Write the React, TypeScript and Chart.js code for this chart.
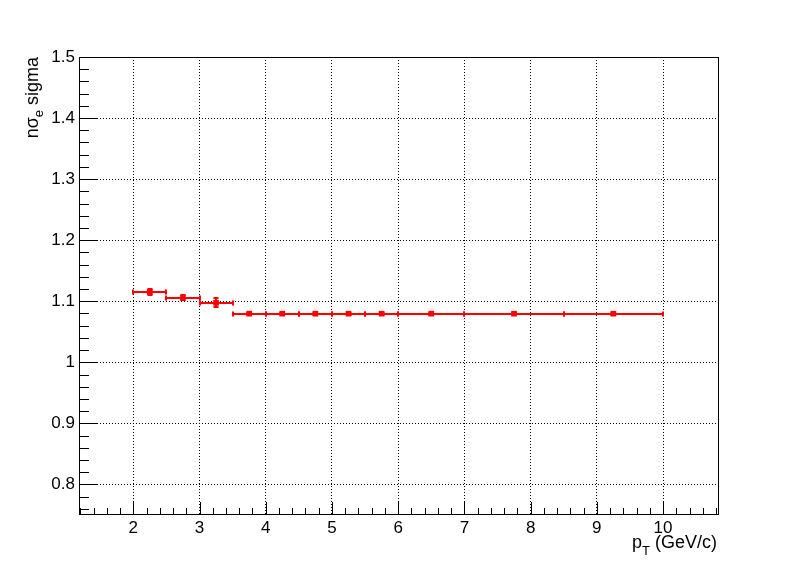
import React, { useEffect, useRef } from "react";
import { Chart, registerables } from "chart.js";

Chart.register(...registerables);

// ---- data ----
const binLow = [2.0, 2.5, 3.0, 3.5, 4.0, 4.5, 5.0, 5.5, 6.0, 7.0, 8.5];
const binHigh = [2.5, 3.0, 3.5, 4.0, 4.5, 5.0, 5.5, 6.0, 7.0, 8.5, 10.0];
const sigmaValues = [1.1155, 1.1058, 1.0975, 1.0797, 1.0797, 1.0797, 1.0797, 1.0797, 1.0797, 1.0797, 1.0797];
const sigmaErrors = [0.005, 0.0045, 0.0074, 0.0015, 0.0015, 0.0015, 0.0015, 0.0015, 0.0015, 0.0015, 0.0015];

// axis ranges / tick spacing
const X_MIN = 1.18;
const X_MAX = 10.83;
const Y_MIN = 0.75;
const Y_MAX = 1.5;
const X_MAJOR = 1;
const X_MINOR = 0.2;
const Y_MAJOR = 0.1;
const Y_MINOR = 0.02;

const FONT = "'Liberation Sans', Arial, Helvetica, sans-serif";
const RED = "#ff0000";

export default function App() {
  const ref = useRef<HTMLCanvasElement>(null);

  useEffect(() => {
    const canvas = ref.current;
    if (!canvas) return;

    const points = binLow.map((lo, i) => ({ x: (lo + binHigh[i]) / 2, y: sigmaValues[i] }));

    const rootPlugin = {
      id: "rootStyle",
      beforeDatasetsDraw(chart: any) {
        const { ctx, scales } = chart;
        const xs = scales.x;
        const ys = scales.y;
        ctx.save();
        ctx.fillStyle = RED;
        const cap = 2.5;
        for (let i = 0; i < binLow.length; i++) {
          const x0 = xs.getPixelForValue(binLow[i]);
          const x1 = xs.getPixelForValue(binHigh[i]);
          const xc = xs.getPixelForValue((binLow[i] + binHigh[i]) / 2);
          const y = Math.round(ys.getPixelForValue(sigmaValues[i]));
          const yt = ys.getPixelForValue(sigmaValues[i] + sigmaErrors[i]);
          const yb = ys.getPixelForValue(sigmaValues[i] - sigmaErrors[i]);
          // horizontal bar
          ctx.fillRect(x0, y - 1, x1 - x0, 2);
          // end caps (vertical)
          ctx.fillRect(Math.round(x0) - 1, y - cap, 2, cap * 2);
          ctx.fillRect(Math.round(x1) - 1, y - cap, 2, cap * 2);
          // vertical error
          const xcr = Math.round(xc);
          ctx.fillRect(xcr - 1, yt, 2, yb - yt);
          ctx.fillRect(xcr - cap, Math.round(yt) - 1, cap * 2, 2);
          ctx.fillRect(xcr - cap, Math.round(yb) - 1, cap * 2, 2);
        }
        ctx.restore();
      },
      afterDraw(chart: any) {
        const { ctx, chartArea, scales } = chart;
        const xs = scales.x;
        const ys = scales.y;
        const { left, right, top, bottom } = chartArea;
        ctx.save();
        // frame
        ctx.strokeStyle = "#000";
        ctx.lineWidth = 1;
        ctx.strokeRect(left + 0.5, top + 0.5, right - left, bottom - top - 1);

        // x-axis tick marks (inside, from bottom)
        ctx.beginPath();
        const xi0 = Math.ceil(X_MIN / X_MINOR - 1e-9);
        const xi1 = Math.floor(X_MAX / X_MINOR + 1e-9);
        const perMajorX = Math.round(X_MAJOR / X_MINOR);
        for (let i = xi0; i <= xi1; i++) {
          const v = i * X_MINOR;
          const px = Math.round(xs.getPixelForValue(v)) + 0.5;
          const len = i % perMajorX === 0 ? 13 : 7;
          ctx.moveTo(px, bottom);
          ctx.lineTo(px, bottom - len);
        }
        // y-axis tick marks (inside, from left)
        const yi0 = Math.ceil(Y_MIN / Y_MINOR - 1e-9);
        const yi1 = Math.floor(Y_MAX / Y_MINOR + 1e-9);
        const perMajorY = Math.round(Y_MAJOR / Y_MINOR);
        for (let i = yi0; i <= yi1; i++) {
          const v = i * Y_MINOR;
          const py = Math.round(ys.getPixelForValue(v)) + 0.5;
          const len = i % perMajorY === 0 ? 19 : 10;
          ctx.moveTo(left, py);
          ctx.lineTo(left + len, py);
        }
        ctx.stroke();

        // titles
        ctx.fillStyle = "#000";
        ctx.textBaseline = "alphabetic";
        ctx.textAlign = "left";
        const big = `18px ${FONT}`;
        const small = `13px ${FONT}`;

        // y title: n σ_e sigma (rotated, right-aligned at top)
        ctx.save();
        ctx.translate(38, top);
        ctx.rotate(-Math.PI / 2);
        ctx.font = big;
        const a1 = "nσ";
        const a3 = " sigma";
        const w1 = ctx.measureText(a1).width;
        const w3 = ctx.measureText(a3).width;
        ctx.font = small;
        const w2 = ctx.measureText("e").width;
        let cx = -(w1 + w2 + w3);
        ctx.font = big;
        ctx.fillText(a1, cx, 0);
        cx += w1;
        ctx.font = small;
        ctx.fillText("e", cx, 5);
        cx += w2;
        ctx.font = big;
        ctx.fillText(a3, cx, 0);
        ctx.restore();

        // x title: p_T (GeV/c), right-aligned at frame right
        ctx.font = big;
        const b1 = "p";
        const b3 = " (GeV/c)";
        const v1 = ctx.measureText(b1).width;
        const v3 = ctx.measureText(b3).width;
        ctx.font = small;
        const v2 = ctx.measureText("T").width;
        let bx = right - 1 - (v1 + v2 + v3);
        const by = 548;
        ctx.font = big;
        ctx.fillText(b1, bx, by);
        bx += v1;
        ctx.font = small;
        ctx.fillText("T", bx, by + 7);
        bx += v2;
        ctx.font = big;
        ctx.fillText(b3, bx, by);

        ctx.restore();
      },
    };

    const chart = new Chart(canvas, {
      type: "scatter",
      data: {
        datasets: [
          {
            data: points,
            pointStyle: "rect",
            pointRadius: 4,
            pointHoverRadius: 4,
            backgroundColor: RED,
            borderColor: RED,
            borderWidth: 0,
            showLine: false,
          },
        ],
      },
      options: {
        animation: false,
        responsive: false,
        devicePixelRatio: 1,
        events: [],
        layout: { padding: { top: 57, right: 80, left: 0, bottom: 0 } },
        plugins: {
          legend: { display: false },
          tooltip: { enabled: false },
          title: { display: false },
        },
        scales: {
          x: {
            type: "linear",
            position: "bottom",
            min: X_MIN,
            max: X_MAX,
            afterFit: (s: any) => {
              s.height = 58;
            },
            ticks: {
              stepSize: X_MAJOR,
              includeBounds: false,
              autoSkip: false,
              maxTicksLimit: 30,
              maxRotation: 0,
              minRotation: 0,
              padding: 3,
              color: "#000",
              font: { family: FONT, size: 17 },
              callback: (v: any) => String(Math.round(Number(v))),
            },
            grid: { drawTicks: false, color: "#000", lineWidth: 1 },
            border: { display: false, dash: [1, 2] },
          },
          y: {
            type: "linear",
            position: "left",
            min: Y_MIN,
            max: Y_MAX,
            afterFit: (s: any) => {
              s.width = 79;
            },
            ticks: {
              stepSize: Y_MAJOR,
              includeBounds: false,
              autoSkip: false,
              maxTicksLimit: 30,
              padding: 4,
              color: "#000",
              font: { family: FONT, size: 17 },
              callback: (v: any) => String(Math.round(Number(v) * 10) / 10),
            },
            grid: { drawTicks: false, color: "#000", lineWidth: 1 },
            border: { display: false, dash: [1, 2] },
          },
        },
      },
      plugins: [rootPlugin],
    } as any);

    return () => chart.destroy();
  }, []);

  return (
    <div style={{ position: "fixed", left: 0, top: 0, width: 798, height: 573, background: "#fff" }}>
      <canvas ref={ref} width={798} height={573} style={{ display: "block", width: 798, height: 573 }} />
    </div>
  );
}
